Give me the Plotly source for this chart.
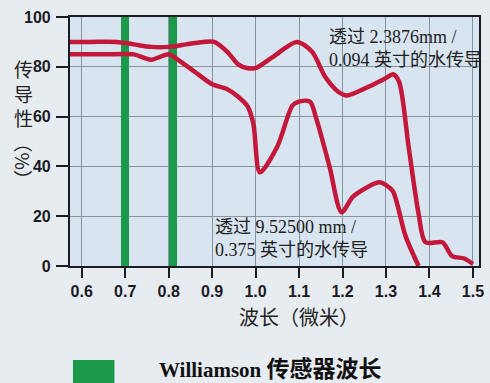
import plotly.graph_objects as go

# ---- data ----
wl_thin = [0.573, 0.62, 0.68, 0.72, 0.76, 0.80, 0.84, 0.88, 0.905, 0.935, 0.96, 0.98, 1.00,
           1.04, 1.095, 1.13, 1.16, 1.19, 1.21, 1.26, 1.30, 1.316, 1.33, 1.352, 1.375, 1.391,
           1.43, 1.452, 1.48, 1.50]
t_thin = [90, 90, 90, 89, 88, 88, 89, 90, 90, 86, 81, 79.5, 79.5,
          84, 90, 86, 76, 70, 68.5, 72, 75.5, 77, 74, 48, 21, 9.5,
          9.5, 4, 3, 0.8]

wl_thick = [0.573, 0.65, 0.72, 0.745, 0.76, 0.78, 0.80, 0.82, 0.86, 0.90, 0.935, 0.96, 0.982,
            0.995, 1.01, 1.05, 1.085, 1.10, 1.125, 1.14, 1.17, 1.198, 1.225, 1.284, 1.30,
            1.316, 1.345, 1.375]
t_thick = [85, 85, 85, 83.5, 82.8, 84, 85, 83, 78, 73, 71, 68, 64,
           57, 37.6, 48, 64.5, 66, 66, 59, 40, 21.6, 28, 33.6, 32.5,
           30, 12, 0]

sensor_wl = [0.70, 0.81]
sensor_h = [100, 100]

x_ticks = [0.6, 0.7, 0.8, 0.9, 1.0, 1.1, 1.2, 1.3, 1.4, 1.5]
x_tick_text = ["0.6", "0.7", "0.8", "0.9", "1.0", "1.1", "1.2", "1.3", "1.4", "1.5"]
y_ticks = [0, 20, 40, 60, 80, 100]

label_thin = "透过 2.3876mm /<br>0.094 英寸的水传导"
label_thick = "透过 9.52500 mm /<br>0.375 英寸的水传导"
x_title = "波长（微米）"
y_title_a = "传<br>导<br>性"
y_title_b = "（%）"
legend_text = "<b>Williamson <span style='font-size:23px'>传感器波长</span></b>"

# ---- layout geometry ----
W, H = 490, 383
L, R, T, B = 70, 6, 17, 117
PW, PH = W - L - R, H - T - B

def px(x):
    return (x - L) / PW

def py(y):
    return (H - B - y) / PH

RED = "#c4183a"
GREEN = "#1a9a4a"
SERIF = "Liberation Serif, Times New Roman, Noto Sans CJK SC, serif"
CJK = "Noto Sans CJK SC, sans-serif"
NARROW = "Liberation Sans Narrow, Arial Narrow, Liberation Sans, sans-serif"

fig = go.Figure()
fig.add_trace(go.Bar(x=sensor_wl, y=sensor_h, width=0.018, marker=dict(color=GREEN, line=dict(width=0)),
                     showlegend=False, hoverinfo="skip"))
fig.add_trace(go.Scatter(x=wl_thin, y=t_thin, mode="lines", line=dict(color=RED, width=4.5, shape="spline", smoothing=0.8),
                         showlegend=False))
fig.add_trace(go.Scatter(x=wl_thick, y=t_thick, mode="lines", line=dict(color=RED, width=4.5, shape="spline", smoothing=0.8),
                         showlegend=False))

axis_common = dict(showline=True, linecolor="#1b1b26", linewidth=2.2, mirror=True,
                   showgrid=True, gridcolor="#8793a0", gridwidth=1, zeroline=False,
                   ticks="outside", tickcolor="#1b1b26", tickwidth=1.5,
                   tickfont=dict(family=NARROW, size=16, color="#1b1b26", weight="bold"))

fig.update_layout(
    width=W, height=H,
    margin=dict(l=L, r=R, t=T, b=B),
    paper_bgcolor="#e7ecf0",
    plot_bgcolor="#d8e4ef",
    bargap=0,
    xaxis=dict(range=[0.573, 1.514], tickvals=x_ticks, ticktext=x_tick_text, ticklen=10,
               ticklabeloverflow="allow", **axis_common),
    yaxis=dict(range=[0, 100], tickvals=y_ticks, ticklen=12, ticklabelstandoff=2, **axis_common),
    annotations=[
        dict(text=label_thin, x=px(330), y=py(48.5), xref="paper", yref="paper", xanchor="left", yanchor="middle",
             showarrow=False, align="left", font=dict(family=SERIF, size=18, color="#222222")),
        dict(text=label_thick, x=px(215), y=py(238.5), xref="paper", yref="paper", xanchor="left", yanchor="middle",
             showarrow=False, align="left", font=dict(family=SERIF, size=18, color="#222222")),
        dict(text=x_title, x=px(302), y=py(317), xref="paper", yref="paper", xanchor="center", yanchor="middle",
             showarrow=False, font=dict(family=CJK, size=20, color="#222222")),
        dict(text=y_title_a, x=px(23), y=py(93), xref="paper", yref="paper", xanchor="center", yanchor="middle",
             showarrow=False, font=dict(family=CJK, size=19, color="#222222")),
        dict(text=y_title_b, x=px(23), y=py(161), xref="paper", yref="paper", xanchor="center", yanchor="middle",
             showarrow=False, textangle=90, font=dict(family=CJK, size=19, color="#222222")),
        dict(text=legend_text, x=px(158), y=py(369), xref="paper", yref="paper", xanchor="left", yanchor="middle",
             showarrow=False, font=dict(family=SERIF, size=21, color="#111111")),
    ],
    shapes=[
        dict(type="rect", xref="paper", yref="paper", x0=px(73), x1=px(115), y0=py(383), y1=py(360),
             fillcolor=GREEN, line=dict(width=0)),
    ],
)

fig.write_html("out.html")
